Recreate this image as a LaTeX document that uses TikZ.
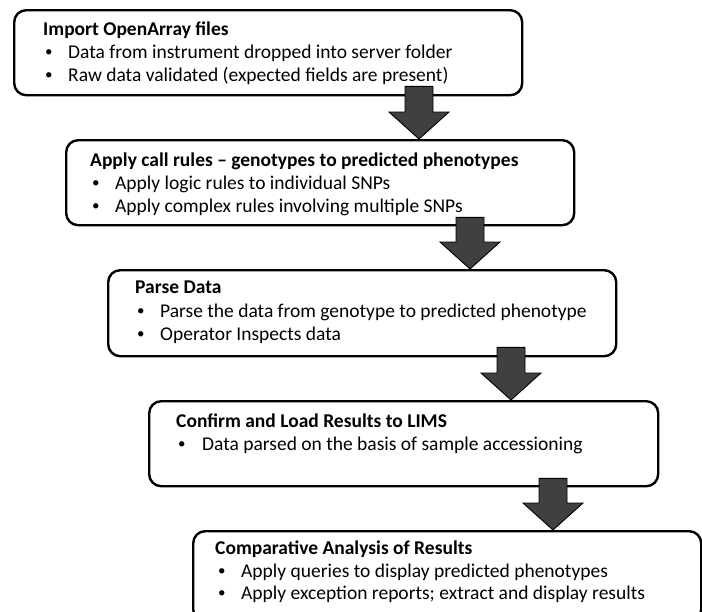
\documentclass[tikz,border=0pt]{standalone}
\usepackage{fontspec}
\setmainfont{Carlito}
\usetikzlibrary{positioning}
\usetikzlibrary{calc}

\definecolor{arrowgray}{HTML}{404040}

\tikzset{
  stepbox/.style={rectangle, draw, line width=2.4pt, rounded corners=12pt, fill=white, minimum width=508pt, minimum height=85pt, anchor=north west, inner sep=0pt},
  boxtitle/.style={anchor=base west, inner sep=0pt, font=\fontsize{19.5}{23}\selectfont\bfseries},
  boxitem/.style={anchor=base west, inner sep=0pt, font=\fontsize{19.5}{23}\selectfont},
  boxbullet/.style={anchor=base west, inner sep=0pt, font=\fontsize{15}{15}\selectfont},
  bigarrow/.style={fill=arrowgray, draw=black, line width=0.9pt}
}

% block arrow from #1 (top of shaft) to #2 (tip)
\newcommand{\blockarrow}[2]{%
  \draw[bigarrow] ($(#1)+(-14,0)$) -- ($(#1)+(14,0)$) -- ($(#2)+(14,-27)$) -- ($(#2)+(30,-27)$)
    -- (#2) -- ($(#2)+(-30,-27)$) -- ($(#2)+(-14,-27)$) -- cycle;}
\newcommand{\bul}{\raisebox{1.2pt}{\textbullet}}

\begin{document}
\begin{tikzpicture}[x=1pt, y=-1pt]
    \useasboundingbox (0,0) rectangle (702,611);

    % Boxes
    \node[stepbox] (import) at (13,9) {};
    \node[stepbox] (rules) at (65,139) {};
    \node[stepbox, minimum height=86pt] (parse) at (107,269) {};
    \node[stepbox, minimum width=509pt] (confirm) at (148,400) {};
    \node[stepbox, minimum height=90pt] (compare) at (192,530) {};

    % Texts
    \node[boxtitle] (importT) at ($(import.north west)+(30,26)$) {Import OpenArray files};
    \node[boxbullet] (importB1) at ($(import.north west)+(32,49)$) {\bul};
    \node[boxitem] (importI1) at ($(import.north west)+(55,49)$) {Data from instrument dropped into server folder};
    \node[boxbullet] (importB2) at ($(import.north west)+(32,72)$) {\bul};
    \node[boxitem] (importI2) at ($(import.north west)+(55,72)$) {Raw data validated (expected fields are present)};

    \node[boxtitle] (rulesT) at ($(rules.north west)+(25,27)$) {Apply call rules -- genotypes to predicted phenotypes};
    \node[boxbullet] (rulesB1) at ($(rules.north west)+(27,50)$) {\bul};
    \node[boxitem] (rulesI1) at ($(rules.north west)+(50,50)$) {Apply logic rules to individual SNPs};
    \node[boxbullet] (rulesB2) at ($(rules.north west)+(27,73)$) {\bul};
    \node[boxitem] (rulesI2) at ($(rules.north west)+(50,73)$) {Apply complex rules involving multiple SNPs};

    \node[boxtitle] (parseT) at ($(parse.north west)+(28,24)$) {Parse Data};
    \node[boxbullet] (parseB1) at ($(parse.north west)+(30,48)$) {\bul};
    \node[boxitem] (parseI1) at ($(parse.north west)+(53,48)$) {Parse the data from genotype to predicted phenotype};
    \node[boxbullet] (parseB2) at ($(parse.north west)+(30,71)$) {\bul};
    \node[boxitem] (parseI2) at ($(parse.north west)+(53,71)$) {Operator Inspects data};

    \node[boxtitle] (confirmT) at ($(confirm.north west)+(28,27)$) {Confirm and Load Results to LIMS};
    \node[boxbullet] (confirmB1) at ($(confirm.north west)+(30,50)$) {\bul};
    \node[boxitem] (confirmI1) at ($(confirm.north west)+(54,50)$) {Data parsed on the basis of sample accessioning};

    \node[boxtitle] (compareT) at ($(compare.north west)+(23,24)$) {Comparative Analysis of Results};
    \node[boxbullet] (compareB1) at ($(compare.north west)+(26,47)$) {\bul};
    \node[boxitem] (compareI1) at ($(compare.north west)+(49,47)$) {Apply queries to display predicted phenotypes};
    \node[boxbullet] (compareB2) at ($(compare.north west)+(26,69)$) {\bul};
    \node[boxitem] (compareI2) at ($(compare.north west)+(49,69)$) {Apply exception reports; extract and display results};

    % Arrows
    \coordinate (a1s) at ($(419,0 |- import.south)+(0,-10)$);
    \coordinate (a1e) at (419,0 |- rules.north);
    \coordinate (a2s) at ($(470,0 |- rules.south)+(0,-9)$);
    \coordinate (a2e) at (470,0 |- parse.north);
    \coordinate (a3s) at ($(511,0 |- parse.south)+(0,-10)$);
    \coordinate (a3e) at (511,0 |- confirm.north);
    \coordinate (a4s) at ($(553,0 |- confirm.south)+(0,-9)$);
    \coordinate (a4e) at (553,0 |- compare.north);
    \blockarrow{a1s}{a1e}
    \blockarrow{a2s}{a2e}
    \blockarrow{a3s}{a3e}
    \blockarrow{a4s}{a4e}
\end{tikzpicture}
\end{document}
